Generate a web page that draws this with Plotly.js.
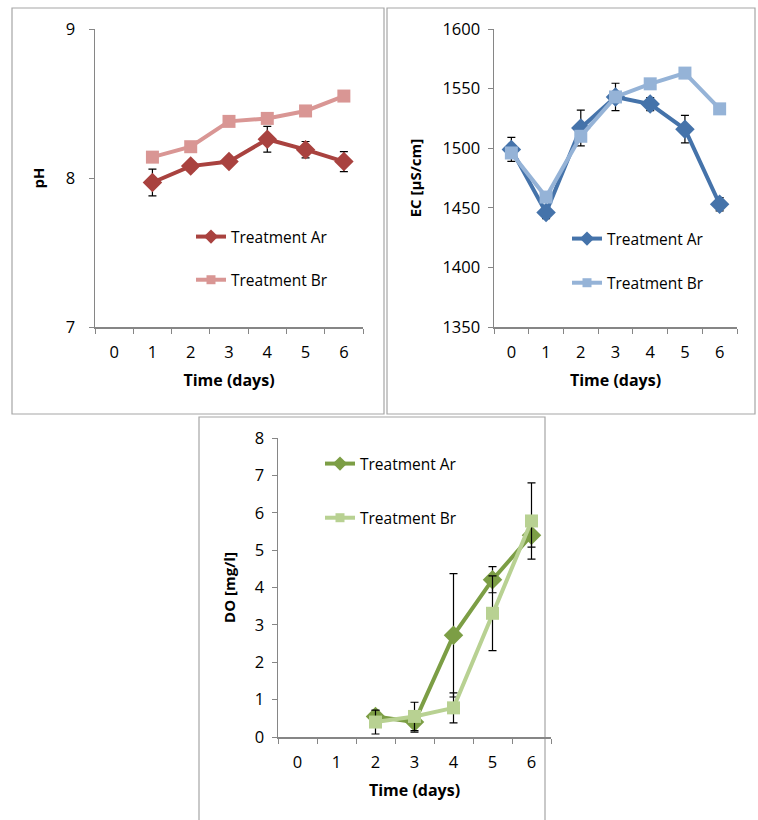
<!DOCTYPE html>
<html>
<head>
<meta charset="utf-8">
<script src="https://cdn.plot.ly/plotly-3.0.1.min.js"></script>
<style>html,body{margin:0;padding:0;background:#fff;}#chart{width:758px;height:820px;}</style>
</head>
<body>
<div id="chart"></div>
<script>
// ---- data ----
const days = ["0","1","2","3","4","5","6"];
const seriesNames = ["Treatment Ar", "Treatment Br"];

const phDays = ["1","2","3","4","5","6"];
const phAr = [7.97, 8.08, 8.11, 8.26, 8.19, 8.11];
const phArErr = [0.09, 0.03, 0.02, 0.087, 0.055, 0.067];
const phBr = [8.14, 8.21, 8.38, 8.40, 8.45, 8.55];
const phBrErr = [0.02, 0.02, 0.02, 0.02, 0.02, 0.03];

const ecDays = ["0","1","2","3","4","5","6"];
const ecAr = [1499, 1446, 1517, 1543, 1537, 1516, 1453];
const ecArErr = [10, 5, 15, 11.5, 5.5, 11.5, 5.5];
const ecBr = [1496, 1459, 1510, 1543, 1554, 1563, 1533];
const ecBrErr = [3, 3, 3, 3, 3, 3, 3];

const doDays = ["2","3","4","5","6"];
const doAr = [0.55, 0.40, 2.72, 4.21, 5.40];
const doArErr = [0.15, 0.27, 1.65, 0.35, 0.32];
const doBr = [0.40, 0.55, 0.78, 3.31, 5.78];
const doBrErr = [0.32, 0.38, 0.40, 1.00, 1.02];

const phTicks = [7, 8, 9];
const ecTicks = [1350, 1400, 1450, 1500, 1550, 1600];
const doTicks = [0, 1, 2, 3, 4, 5, 6, 7, 8];

// ---- layout helpers ----
const W = 758, H = 820;
const px = v => v / W;
const py = v => 1 - v / H;

const FONT = "Open Sans, Noto Sans, sans-serif";
const AXC = "#868686";

function errObj(arr) {
  return {type: "data", array: arr, visible: true, color: "#000000", thickness: 1.2, width: 4};
}
function mk(x, y, err, name, color, symbol, size, xa, ya, leg, grp) {
  return {
    x: x, y: y, name: name, type: "scatter", mode: "lines+markers",
    xaxis: xa, yaxis: ya, legend: leg, legendgroup: grp, showlegend: false,
    line: {color: color, width: 4},
    marker: {color: color, symbol: symbol, size: size},
    error_y: errObj(err)
  };
}
// legend entries with smaller markers (a point placed outside the fixed range, so it is clipped)
function lg(name, color, symbol, size, xa, ya, leg, grp, offY) {
  return {
    x: ["0"], y: [offY], name: name, type: "scatter", mode: "lines+markers",
    xaxis: xa, yaxis: ya, legend: leg, legendgroup: grp, showlegend: true,
    cliponaxis: true,
    line: {color: color, width: 4},
    marker: {color: color, symbol: symbol, size: size}
  };
}

const C = {
  phA: "#A9423F", phB: "#D99694",
  ecA: "#4573AA", ecB: "#95B3D7",
  doA: "#7C9E45", doB: "#B8D192"
};

const traces = [
  mk(phDays, phAr, phArErr, seriesNames[0], C.phA, "diamond", 15, "x", "y", "legend", "a1"),
  mk(phDays, phBr, phBrErr, seriesNames[1], C.phB, "square", 13, "x", "y", "legend", "b1"),
  mk(ecDays, ecAr, ecArErr, seriesNames[0], C.ecA, "diamond", 15, "x2", "y2", "legend2", "a2"),
  mk(ecDays, ecBr, ecBrErr, seriesNames[1], C.ecB, "square", 13, "x2", "y2", "legend2", "b2"),
  mk(doDays, doAr, doArErr, seriesNames[0], C.doA, "diamond", 15, "x3", "y3", "legend3", "a3"),
  mk(doDays, doBr, doBrErr, seriesNames[1], C.doB, "square", 13, "x3", "y3", "legend3", "b3"),
  lg(seriesNames[0], C.phA, "diamond", 11, "x", "y", "legend", "a1", -100),
  lg(seriesNames[1], C.phB, "square", 9, "x", "y", "legend", "b1", -100),
  lg(seriesNames[0], C.ecA, "diamond", 11, "x2", "y2", "legend2", "a2", -10000),
  lg(seriesNames[1], C.ecB, "square", 9, "x2", "y2", "legend2", "b2", -10000),
  lg(seriesNames[0], C.doA, "diamond", 11, "x3", "y3", "legend3", "a3", -100),
  lg(seriesNames[1], C.doB, "square", 9, "x3", "y3", "legend3", "b3", -100)
];

function xAxis(d0, d1, anchor) {
  return {
    domain: [px(d0), px(d1)], anchor: anchor, type: "category",
    categoryorder: "array", categoryarray: days, range: [-0.5, 6.5],
    tickson: "boundaries", ticks: "outside", ticklen: 5, tickcolor: AXC,
    showline: true, linecolor: AXC, linewidth: 1.5, showgrid: false, zeroline: false,
    tickfont: {family: FONT, size: 16.5, color: "#000"}, ticklabelstandoff: 10,
    title: {text: "<b>Time (days)</b>", font: {family: FONT, size: 16, color: "#000"}, standoff: 12},
    fixedrange: true
  };
}
function yAxis(top, bot, anchor, range, ticks, title, stand, tstand) {
  return {
    domain: [py(bot), py(top)], anchor: anchor, range: range,
    tickmode: "array", tickvals: ticks, ticks: "outside", ticklen: 5, tickcolor: AXC,
    showline: true, linecolor: AXC, linewidth: 1.5, showgrid: false, zeroline: false,
    tickfont: {family: FONT, size: 16.5, color: "#000"}, ticklabelstandoff: stand,
    title: {text: "<b>" + title + "</b>", font: {family: FONT, size: 15, color: "#000"}, standoff: tstand},
    fixedrange: true
  };
}
function legendObj(x, y, gap) {
  return {
    x: px(x), y: py(y), xanchor: "left", yanchor: "top",
    bgcolor: "rgba(0,0,0,0)", borderwidth: 0,
    font: {family: FONT, size: 15.5, color: "#000"},
    traceorder: "grouped", tracegroupgap: gap, itemsizing: "trace"
  };
}
function box(x0, y0, x1, y1) {
  return {type: "rect", xref: "paper", yref: "paper",
    x0: px(x0), x1: px(x1), y0: py(y1), y1: py(y0),
    line: {color: "#A6A6A6", width: 1.2}, fillcolor: "rgba(0,0,0,0)", layer: "below"};
}

const layout = {
  width: W, height: H,
  margin: {l: 0, r: 0, t: 0, b: 0},
  paper_bgcolor: "#ffffff", plot_bgcolor: "#ffffff",
  showlegend: true,
  xaxis: xAxis(95, 363, "y"),
  yaxis: yAxis(29, 327, "x", [7, 9], phTicks, "pH", 10, 17),
  xaxis2: xAxis(494, 737, "y2"),
  yaxis2: yAxis(29, 327, "x2", [1350, 1600], ecTicks, "EC [µS/cm]", 4, 17),
  xaxis3: xAxis(278, 551, "y3"),
  yaxis3: yAxis(438, 737, "x3", [0, 8], doTicks, "DO [mg/l]", 4, 15),
  legend: legendObj(191, 220, 20),
  legend2: legendObj(567, 222, 21),
  legend3: legendObj(320, 447, 31),
  shapes: [
    box(12, 8, 384, 414),
    box(387, 8, 755, 414),
    box(199, 417, 545, 830)
  ]
};

Plotly.newPlot("chart", traces, layout, {displayModeBar: false, staticPlot: true});
</script>
</body>
</html>
